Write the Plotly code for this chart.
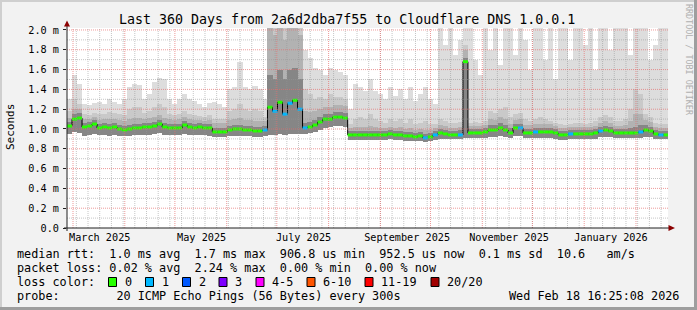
import plotly.graph_objects as go
import pandas as pd

# ---------------- data ----------------
bin_start = "2025-02-25 09:50"
bin_days = 3

med = [1.03, 1.10, 1.11, 1.02, 1.03, 1.05, 1.01, 1.02, 1.01, 1.02,
       1.00, 0.99, 1.00, 1.01, 1.01, 1.02, 1.02, 1.03, 1.05, 1.02,
       1.01, 1.01, 1.01, 1.04, 1.02, 1.01, 1.02, 1.01, 1.01, 0.97,
       0.97, 0.97, 0.99, 1.00, 1.00, 0.99, 0.99, 0.98, 0.98, 0.99,
       1.22, 1.18, 1.27, 1.15, 1.26, 1.29, 1.20, 1.01, 1.02, 1.04,
       1.07, 1.10, 1.10, 1.12, 1.12, 1.11, 0.94, 0.94, 0.94, 0.94,
       0.94, 0.94, 0.94, 0.94, 0.95, 0.94, 0.94, 0.93, 0.93, 0.92,
       0.93, 0.91, 0.92, 0.94, 0.96, 0.95, 0.94, 0.94, 0.94, 1.68,
       0.96, 0.96, 0.96, 0.97, 0.99, 0.99, 1.01, 0.99, 0.96, 1.01,
       1.01, 0.96, 0.96, 0.97, 0.97, 0.97, 0.97, 0.96, 0.94, 0.94,
       0.95, 0.95, 0.95, 0.95, 0.95, 0.96, 0.98, 0.99, 0.98, 0.96,
       0.96, 0.96, 0.96, 0.96, 0.97, 0.99, 0.98, 0.95, 0.94, 0.94]

loss = [0, 0, 0, 0, 0, 0, 0, 0, 0, 0,
        0, 0, 0, 0, 0, 0, 0, 0, 0, 0,
        0, 0, 0, 0, 0, 0, 0, 0, 0, 0,
        0, 0, 0, 0, 0, 0, 0, 0, 0, 1,
        0, 1, 0, 1, 1, 0, 1, 1, 0, 0,
        0, 0, 0, 0, 0, 0, 0, 0, 0, 0,
        0, 0, 0, 0, 0, 0, 0, 0, 0, 0,
        0, 1, 0, 1, 0, 0, 0, 0, 1, 0,
        0, 0, 0, 0, 0, 0, 0, 0, 0, 0,
        1, 0, 0, 1, 0, 0, 0, 0, 0, 0,
        1, 0, 0, 0, 0, 0, 1, 0, 0, 0,
        0, 0, 0, 0, 1, 0, 0, 0, 1, 0]

smoke_lo = [0.95, 0.97, 0.96, 0.93, 0.94, 0.95, 0.94, 0.94, 0.93, 0.94,
            0.93, 0.93, 0.93, 0.94, 0.94, 0.94, 0.94, 0.95, 0.96, 0.94,
            0.94, 0.94, 0.94, 0.95, 0.94, 0.94, 0.94, 0.94, 0.93, 0.92,
            0.92, 0.92, 0.93, 0.93, 0.93, 0.93, 0.93, 0.92, 0.92, 0.93,
            0.94, 0.94, 0.95, 0.94, 0.95, 0.95, 0.95, 0.95, 0.96, 0.97,
            0.99, 1.01, 1.02, 1.03, 1.03, 1.02, 0.89, 0.89, 0.89, 0.89,
            0.89, 0.89, 0.89, 0.89, 0.90, 0.89, 0.89, 0.88, 0.88, 0.88,
            0.88, 0.87, 0.88, 0.89, 0.90, 0.90, 0.90, 0.90, 0.90, 0.91,
            0.91, 0.91, 0.91, 0.91, 0.92, 0.92, 0.93, 0.92, 0.91, 0.93,
            0.93, 0.91, 0.91, 0.91, 0.91, 0.91, 0.91, 0.90, 0.89, 0.89,
            0.90, 0.90, 0.90, 0.90, 0.90, 0.90, 0.92, 0.92, 0.92, 0.91,
            0.91, 0.91, 0.91, 0.91, 0.91, 0.92, 0.92, 0.90, 0.90, 0.90]

smoke_p60 = [1.07, 1.15, 1.16, 1.06, 1.07, 1.09, 1.05, 1.06, 1.05, 1.06,
             1.04, 1.03, 1.04, 1.05, 1.05, 1.06, 1.06, 1.07, 1.09, 1.06,
             1.05, 1.05, 1.05, 1.08, 1.06, 1.05, 1.06, 1.05, 1.05, 1.01,
             1.01, 1.01, 1.03, 1.04, 1.04, 1.03, 1.03, 1.02, 1.02, 1.03,
             1.55, 1.50, 1.60, 1.50, 1.60, 1.62, 1.50, 1.06, 1.07, 1.09,
             1.12, 1.15, 1.15, 1.17, 1.17, 1.16, 0.98, 0.98, 0.98, 0.98,
             0.98, 0.98, 0.98, 0.98, 0.99, 0.98, 0.98, 0.97, 0.97, 0.96,
             0.97, 0.95, 0.96, 0.98, 1.00, 0.99, 0.98, 0.98, 0.99, 1.72,
             1.00, 1.00, 1.00, 1.01, 1.04, 1.04, 1.06, 1.04, 1.01, 1.05,
             1.05, 1.00, 1.00, 1.01, 1.01, 1.01, 1.01, 1.00, 0.98, 0.98,
             0.99, 0.99, 0.99, 0.99, 0.99, 1.00, 1.02, 1.03, 1.02, 1.00,
             1.00, 1.00, 1.01, 1.02, 1.04, 1.04, 1.02, 0.99, 0.98, 0.98]

smoke_p80 = [1.11, 1.20, 1.20, 1.10, 1.10, 1.12, 1.09, 1.10, 1.10, 1.10,
             1.09, 1.08, 1.10, 1.11, 1.11, 1.10, 1.11, 1.12, 1.14, 1.11,
             1.10, 1.09, 1.10, 1.12, 1.10, 1.09, 1.09, 1.08, 1.09, 1.06,
             1.06, 1.06, 1.09, 1.10, 1.11, 1.09, 1.09, 1.08, 1.08, 1.08,
             2.05, 1.95, 2.10, 1.90, 2.10, 2.10, 1.95, 1.18, 1.17, 1.18,
             1.20, 1.22, 1.22, 1.24, 1.24, 1.23, 1.01, 1.02, 1.02, 1.02,
             1.03, 1.02, 1.01, 1.01, 1.02, 1.01, 1.02, 1.00, 1.01, 0.99,
             1.00, 0.99, 0.99, 1.01, 1.04, 1.03, 1.01, 1.01, 1.02, 1.80,
             1.03, 1.03, 1.03, 1.04, 1.10, 1.09, 1.12, 1.10, 1.05, 1.09,
             1.10, 1.04, 1.04, 1.05, 1.05, 1.05, 1.05, 1.03, 1.01, 1.01,
             1.02, 1.02, 1.02, 1.02, 1.02, 1.03, 1.06, 1.08, 1.06, 1.03,
             1.03, 1.04, 1.08, 1.15, 1.15, 1.09, 1.07, 1.02, 1.01, 1.01]

smoke_p90 = [1.18, 1.30, 1.25, 1.15, 1.14, 1.16, 1.15, 1.15, 1.17, 1.16,
             1.15, 1.14, 1.20, 1.22, 1.22, 1.16, 1.18, 1.22, 1.25, 1.22,
             1.15, 1.14, 1.15, 1.18, 1.15, 1.14, 1.13, 1.12, 1.14, 1.10,
             1.10, 1.10, 1.18, 1.20, 1.25, 1.20, 1.18, 1.20, 1.18, 1.12,
             2.10, 2.10, 2.10, 2.10, 2.10, 2.10, 2.10, 1.40, 1.35, 1.30,
             1.32, 1.30, 1.35, 1.32, 1.32, 1.30, 1.05, 1.10, 1.12, 1.10,
             1.15, 1.10, 1.08, 1.06, 1.10, 1.08, 1.10, 1.06, 1.10, 1.05,
             1.06, 1.08, 1.05, 1.05, 1.10, 1.08, 1.06, 1.06, 1.07, 1.85,
             1.06, 1.07, 1.06, 1.08, 1.18, 1.16, 1.20, 1.22, 1.12, 1.15,
             1.16, 1.10, 1.08, 1.10, 1.12, 1.10, 1.08, 1.06, 1.05, 1.04,
             1.05, 1.06, 1.06, 1.05, 1.06, 1.08, 1.12, 1.14, 1.12, 1.08,
             1.08, 1.10, 1.20, 1.40, 1.35, 1.15, 1.12, 1.06, 1.05, 1.05]

smoke_max = [1.30, 1.55, 1.45, 1.25, 1.24, 1.26, 1.27, 1.25, 1.30, 1.27,
             1.25, 1.30, 1.42, 1.45, 1.44, 1.30, 1.35, 1.47, 1.52, 1.50,
             1.30, 1.25, 1.30, 1.35, 1.30, 1.28, 1.25, 1.22, 1.26, 1.27,
             1.25, 1.22, 1.40, 1.42, 1.68, 1.42, 1.40, 1.43, 1.40, 1.30,
             2.20, 2.20, 2.20, 2.20, 2.20, 2.20, 2.20, 1.80, 1.72, 1.62,
             1.60, 1.55, 1.62, 1.60, 1.58, 1.55, 1.20, 1.45, 1.42, 1.38,
             1.50, 1.38, 1.35, 1.30, 1.42, 1.33, 1.40, 1.30, 1.42, 1.28,
             1.35, 1.42, 1.30, 1.25, 2.20, 1.85, 2.20, 1.75, 1.90, 2.20,
             2.20, 1.70, 1.55, 2.20, 1.80, 2.20, 1.65, 2.20, 2.20, 1.75,
             2.20, 1.90, 1.60, 2.20, 2.20, 1.70, 2.20, 1.50, 2.20, 2.20,
             1.70, 2.20, 2.20, 1.85, 2.20, 1.60, 2.20, 2.20, 1.80, 2.20,
             2.20, 2.20, 1.75, 2.20, 2.20, 2.20, 1.70, 1.85, 2.20, 2.20]

y_ticks = [0.0, 0.2, 0.4, 0.6, 0.8, 1.0, 1.2, 1.4, 1.6, 1.8, 2.0]
y_tick_labels = ["0.0", "0.2 m", "0.4 m", "0.6 m", "0.8 m", "1.0 m",
                 "1.2 m", "1.4 m", "1.6 m", "1.8 m", "2.0 m"]
month_labels = ["March 2025", "May 2025", "July 2025", "September 2025",
                "November 2025", "January 2026"]
month_label_dates = ["2025-03-17", "2025-05-17", "2025-07-17", "2025-09-17",
                     "2025-11-17", "2026-01-17"]
loss_names = ["0", "1", "2", "3", "4-5", "6-10", "11-19", "20/20"]
loss_colors = ["#26ff00", "#00b8ff", "#0059ff", "#7e00ff", "#ff00ff",
               "#ff5500", "#ff0000", "#a10000"]

title_text = "Last 360 Days from 2a6d2dba7f55 to Cloudflare DNS 1.0.0.1"
row1 = "median rtt:  1.0 ms avg  1.7 ms max  906.8 us min  952.5 us now  0.1 ms sd  10.6   am/s"
row2 = "packet loss: 0.02 % avg  2.24 % max  0.00 % min  0.00 % now"
row3 = "loss color:"
row4 = "probe:        20 ICMP Echo Pings (56 Bytes) every 300s"
stamp = "Wed Feb 18 16:25:08 2026"

x_range = ["2025-02-25 09:50", "2026-02-20 03:50"]
y_range = [0, 2.02]

# ---------------- geometry helpers ----------------
W, H = 697, 310
PL, PR, PT, PB = 67, 668, 28, 228
PW, PH = PR - PL, PB - PT


def px(x):
    return (x - PL) / PW


def py(y):
    return (PB - y) / PH


MONO = "DejaVu Sans Mono"

t0 = pd.Timestamp(bin_start)
n = len(med)
starts = [t0 + pd.Timedelta(days=bin_days * i) for i in range(n)]
ends = [s + pd.Timedelta(days=bin_days) for s in starts]
centers = [s + pd.Timedelta(days=bin_days / 2) for s in starts]
width_ms = bin_days * 86400000 * 1.04

fig = go.Figure()

# smoke layers (outer -> inner)
for top, col in [(smoke_max, "#dddddd"), (smoke_p90, "#c9c9c9"),
                 (smoke_p80, "#b2b2b2"), (smoke_p60, "#868686")]:
    fig.add_trace(go.Bar(
        x=centers, base=smoke_lo, y=[t - b for t, b in zip(top, smoke_lo)],
        width=width_ms, marker=dict(color=col, line=dict(width=0)),
        hoverinfo="skip", showlegend=False))

# median step line (black)
fig.add_trace(go.Scatter(
    x=starts + [ends[-1]], y=med + [med[-1]], mode="lines",
    line=dict(color="#000000", width=1, shape="hv"),
    hoverinfo="skip", showlegend=False))

# loss-coloured median segments
for lv in sorted(set(loss)):
    xs, ys = [], []
    for s, e, m, l in zip(starts, ends, med, loss):
        if l == lv:
            xs += [s, e, None]
            ys += [m, m, None]
    fig.add_trace(go.Scatter(
        x=xs, y=ys, mode="lines",
        line=dict(color=loss_colors[min(lv, 7)], width=3),
        hoverinfo="skip", showlegend=False))

shapes = []
# grid (drawn above data like rrdtool)
GRID = "rgba(150,150,150,0.55)"
MGRID = "rgba(230,110,110,0.7)"
day = pd.Timestamp("2025-02-24")
while day < pd.Timestamp(x_range[1]):
    if day > pd.Timestamp(x_range[0]):
        shapes.append(dict(type="line", xref="x", yref="paper", x0=day, x1=day,
                           y0=0, y1=1, layer="above",
                           line=dict(color=GRID, width=1, dash="1px,1px")))
    day += pd.Timedelta(days=7)
for mth in pd.date_range("2025-03-01", "2026-02-01", freq="MS"):
    shapes.append(dict(type="line", xref="x", yref="paper", x0=mth, x1=mth,
                       y0=0, y1=1, layer="above",
                       line=dict(color=MGRID, width=1, dash="1px,1px")))
for k in range(1, 21):
    v = k / 10
    major = (k % 2 == 0)
    shapes.append(dict(type="line", xref="paper", yref="y", x0=0, x1=1,
                       y0=v, y1=v, layer="above",
                       line=dict(color=MGRID if major else GRID, width=1, dash="1px,1px")))

# axes lines & arrows
shapes.append(dict(type="line", xref="paper", yref="paper", x0=px(64), x1=px(669),
                   y0=py(228), y1=py(228), line=dict(color="#202020", width=1), layer="above"))
shapes.append(dict(type="line", xref="paper", yref="paper", x0=px(67), x1=px(67),
                   y0=py(231), y1=py(25), line=dict(color="#202020", width=1), layer="above"))
shapes.append(dict(type="path", xref="paper", yref="paper", layer="above",
                   path=f"M {px(67)},{py(20.5)} L {px(64)},{py(26.5)} L {px(70)},{py(26.5)} Z",
                   fillcolor="#8b0000", line=dict(width=0)))
shapes.append(dict(type="path", xref="paper", yref="paper", layer="above",
                   path=f"M {px(675)},{py(228)} L {px(668.5)},{py(225)} L {px(668.5)},{py(231)} Z",
                   fillcolor="#8b0000", line=dict(width=0)))

# frame shading
shapes += [
    dict(type="rect", xref="paper", yref="paper", x0=px(0), x1=px(W), y0=py(0), y1=py(2),
         fillcolor="#cfcfcf", line=dict(width=0), layer="below"),
    dict(type="rect", xref="paper", yref="paper", x0=px(0), x1=px(2), y0=py(0), y1=py(H),
         fillcolor="#cfcfcf", line=dict(width=0), layer="below"),
    dict(type="rect", xref="paper", yref="paper", x0=px(0), x1=px(W), y0=py(H - 3), y1=py(H),
         fillcolor="#9e9e9e", line=dict(width=0), layer="below"),
    dict(type="rect", xref="paper", yref="paper", x0=px(W - 3), x1=px(W), y0=py(0), y1=py(H),
         fillcolor="#9e9e9e", line=dict(width=0), layer="below"),
]

# loss colour legend boxes
box_x = [108.5, 145.5, 182.5, 219.0, 256.0, 307.0, 365.0, 431.0]
annotations = []
for bx, name, col in zip(box_x, loss_names, loss_colors):
    shapes.append(dict(type="rect", xref="paper", yref="paper",
                       x0=px(bx), x1=px(bx + 8), y0=py(277.5), y1=py(286.5),
                       fillcolor=col, line=dict(color="#000000", width=1)))
    annotations.append(dict(text=name, xref="paper", yref="paper", x=px(bx + 14), y=py(282),
                            xanchor="left", yanchor="middle", showarrow=False,
                            font=dict(family=MONO, size=11.8, color="#000")))


def nb(s):
    return s.replace(" ", "\u00a0")


for txt, yy in [(row1, 254), (row2, 268), (row3, 282), (row4, 296)]:
    annotations.append(dict(text=nb(txt), xref="paper", yref="paper", x=px(15), y=py(yy),
                            xanchor="left", yanchor="middle", showarrow=False,
                            font=dict(family=MONO, size=11.8, color="#000")))
annotations.append(dict(text=nb(stamp), xref="paper", yref="paper", x=px(681), y=py(296),
                        xanchor="right", yanchor="middle", showarrow=False,
                        font=dict(family=MONO, size=11.8, color="#000")))
annotations.append(dict(text=nb(title_text), xref="paper", yref="paper", x=px(347), y=py(19),
                        xanchor="center", yanchor="middle", showarrow=False,
                        font=dict(family=MONO, size=13.3, color="#000")))
annotations.append(dict(text="Seconds", xref="paper", yref="paper", x=px(10), y=py(127),
                        xanchor="center", yanchor="middle", showarrow=False, textangle=-90,
                        font=dict(family=MONO, size=11, color="#000")))
annotations.append(dict(text=nb("RRDTOOL / TOBI OETIKER"), xref="paper", yref="paper",
                        x=px(689), y=py(60), xanchor="center", yanchor="middle",
                        showarrow=False, textangle=90,
                        font=dict(family=MONO, size=8.4, color="#b0b0b0")))

fig.update_layout(
    width=W, height=H, margin=dict(l=PL, r=W - PR, t=PT, b=H - PB, pad=0),
    paper_bgcolor="#f2f2f2", plot_bgcolor="#ffffff",
    barmode="overlay", bargap=0, showlegend=False,
    shapes=shapes, annotations=annotations,
    xaxis=dict(type="date", range=x_range, showgrid=False, zeroline=False,
               showline=False, tickvals=month_label_dates, ticktext=month_labels,
               ticks="", ticklabelstandoff=2,
               tickfont=dict(family=MONO, size=10.2, color="#000")),
    yaxis=dict(range=y_range, showgrid=False, zeroline=False, showline=False,
               tickvals=y_ticks, ticktext=y_tick_labels, ticks="outside",
               ticklen=3, tickcolor="#202020", ticklabelstandoff=2,
               tickfont=dict(family=MONO, size=10.2, color="#000")),
)

fig.write_html("out.html")
